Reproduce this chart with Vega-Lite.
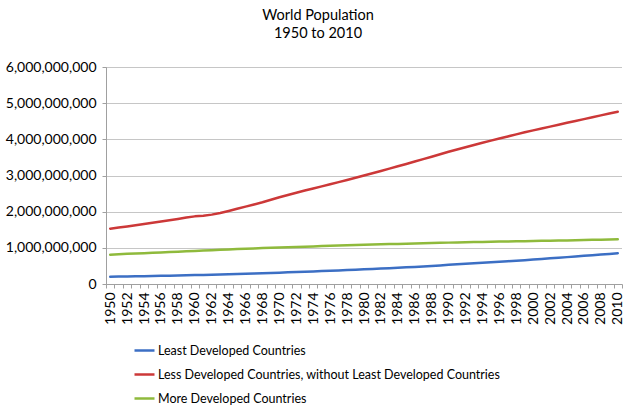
{
  "$schema": "https://vega.github.io/schema/vega-lite/v6.json",
  "width": 516,
  "height": 217,
  "autosize": {"type": "none"},
  "padding": {"left": 106, "top": 67, "right": 15, "bottom": 134},
  "background": "white",
  "title": {
    "text": ["World Population", "1950 to 2010"],
    "font": "Lato",
    "fontSize": 14.5,
    "fontWeight": "normal",
    "color": "#000000",
    "anchor": "middle",
    "dx": -46,
    "offset": 19,
    "lineHeight": 18
  },
  "config": {
    "view": {"stroke": null},
    "font": "Lato"
  },
  "datasets": {
    "population": [
      {"year": "1950", "series": "Least Developed Countries", "pop": 200000000},
      {"year": "1951", "series": "Least Developed Countries", "pop": 204000000},
      {"year": "1952", "series": "Least Developed Countries", "pop": 208000000},
      {"year": "1953", "series": "Least Developed Countries", "pop": 212000000},
      {"year": "1954", "series": "Least Developed Countries", "pop": 216000000},
      {"year": "1955", "series": "Least Developed Countries", "pop": 221000000},
      {"year": "1956", "series": "Least Developed Countries", "pop": 226000000},
      {"year": "1957", "series": "Least Developed Countries", "pop": 231000000},
      {"year": "1958", "series": "Least Developed Countries", "pop": 236000000},
      {"year": "1959", "series": "Least Developed Countries", "pop": 241000000},
      {"year": "1960", "series": "Least Developed Countries", "pop": 246000000},
      {"year": "1961", "series": "Least Developed Countries", "pop": 252000000},
      {"year": "1962", "series": "Least Developed Countries", "pop": 258000000},
      {"year": "1963", "series": "Least Developed Countries", "pop": 264000000},
      {"year": "1964", "series": "Least Developed Countries", "pop": 270000000},
      {"year": "1965", "series": "Least Developed Countries", "pop": 277000000},
      {"year": "1966", "series": "Least Developed Countries", "pop": 284000000},
      {"year": "1967", "series": "Least Developed Countries", "pop": 291000000},
      {"year": "1968", "series": "Least Developed Countries", "pop": 298000000},
      {"year": "1969", "series": "Least Developed Countries", "pop": 306000000},
      {"year": "1970", "series": "Least Developed Countries", "pop": 314000000},
      {"year": "1971", "series": "Least Developed Countries", "pop": 322000000},
      {"year": "1972", "series": "Least Developed Countries", "pop": 330000000},
      {"year": "1973", "series": "Least Developed Countries", "pop": 339000000},
      {"year": "1974", "series": "Least Developed Countries", "pop": 348000000},
      {"year": "1975", "series": "Least Developed Countries", "pop": 357000000},
      {"year": "1976", "series": "Least Developed Countries", "pop": 366000000},
      {"year": "1977", "series": "Least Developed Countries", "pop": 375000000},
      {"year": "1978", "series": "Least Developed Countries", "pop": 385000000},
      {"year": "1979", "series": "Least Developed Countries", "pop": 395000000},
      {"year": "1980", "series": "Least Developed Countries", "pop": 405000000},
      {"year": "1981", "series": "Least Developed Countries", "pop": 416000000},
      {"year": "1982", "series": "Least Developed Countries", "pop": 426000000},
      {"year": "1983", "series": "Least Developed Countries", "pop": 437000000},
      {"year": "1984", "series": "Least Developed Countries", "pop": 448000000},
      {"year": "1985", "series": "Least Developed Countries", "pop": 460000000},
      {"year": "1986", "series": "Least Developed Countries", "pop": 473000000},
      {"year": "1987", "series": "Least Developed Countries", "pop": 486000000},
      {"year": "1988", "series": "Least Developed Countries", "pop": 499000000},
      {"year": "1989", "series": "Least Developed Countries", "pop": 514000000},
      {"year": "1990", "series": "Least Developed Countries", "pop": 530000000},
      {"year": "1991", "series": "Least Developed Countries", "pop": 544000000},
      {"year": "1992", "series": "Least Developed Countries", "pop": 557000000},
      {"year": "1993", "series": "Least Developed Countries", "pop": 571000000},
      {"year": "1994", "series": "Least Developed Countries", "pop": 585000000},
      {"year": "1995", "series": "Least Developed Countries", "pop": 600000000},
      {"year": "1996", "series": "Least Developed Countries", "pop": 614000000},
      {"year": "1997", "series": "Least Developed Countries", "pop": 629000000},
      {"year": "1998", "series": "Least Developed Countries", "pop": 644000000},
      {"year": "1999", "series": "Least Developed Countries", "pop": 660000000},
      {"year": "2000", "series": "Least Developed Countries", "pop": 675000000},
      {"year": "2001", "series": "Least Developed Countries", "pop": 692000000},
      {"year": "2002", "series": "Least Developed Countries", "pop": 709000000},
      {"year": "2003", "series": "Least Developed Countries", "pop": 726000000},
      {"year": "2004", "series": "Least Developed Countries", "pop": 743000000},
      {"year": "2005", "series": "Least Developed Countries", "pop": 760000000},
      {"year": "2006", "series": "Least Developed Countries", "pop": 778000000},
      {"year": "2007", "series": "Least Developed Countries", "pop": 796000000},
      {"year": "2008", "series": "Least Developed Countries", "pop": 814000000},
      {"year": "2009", "series": "Least Developed Countries", "pop": 832000000},
      {"year": "2010", "series": "Least Developed Countries", "pop": 850000000},

      {"year": "1950", "series": "Less Developed Countries, without Least Developed Countries", "pop": 1530000000},
      {"year": "1951", "series": "Less Developed Countries, without Least Developed Countries", "pop": 1560000000},
      {"year": "1952", "series": "Less Developed Countries, without Least Developed Countries", "pop": 1592000000},
      {"year": "1953", "series": "Less Developed Countries, without Least Developed Countries", "pop": 1625000000},
      {"year": "1954", "series": "Less Developed Countries, without Least Developed Countries", "pop": 1658000000},
      {"year": "1955", "series": "Less Developed Countries, without Least Developed Countries", "pop": 1692000000},
      {"year": "1956", "series": "Less Developed Countries, without Least Developed Countries", "pop": 1727000000},
      {"year": "1957", "series": "Less Developed Countries, without Least Developed Countries", "pop": 1763000000},
      {"year": "1958", "series": "Less Developed Countries, without Least Developed Countries", "pop": 1800000000},
      {"year": "1959", "series": "Less Developed Countries, without Least Developed Countries", "pop": 1838000000},
      {"year": "1960", "series": "Less Developed Countries, without Least Developed Countries", "pop": 1870000000},
      {"year": "1961", "series": "Less Developed Countries, without Least Developed Countries", "pop": 1890000000},
      {"year": "1962", "series": "Less Developed Countries, without Least Developed Countries", "pop": 1918000000},
      {"year": "1963", "series": "Less Developed Countries, without Least Developed Countries", "pop": 1965000000},
      {"year": "1964", "series": "Less Developed Countries, without Least Developed Countries", "pop": 2020000000},
      {"year": "1965", "series": "Less Developed Countries, without Least Developed Countries", "pop": 2080000000},
      {"year": "1966", "series": "Less Developed Countries, without Least Developed Countries", "pop": 2140000000},
      {"year": "1967", "series": "Less Developed Countries, without Least Developed Countries", "pop": 2200000000},
      {"year": "1968", "series": "Less Developed Countries, without Least Developed Countries", "pop": 2260000000},
      {"year": "1969", "series": "Less Developed Countries, without Least Developed Countries", "pop": 2330000000},
      {"year": "1970", "series": "Less Developed Countries, without Least Developed Countries", "pop": 2400000000},
      {"year": "1971", "series": "Less Developed Countries, without Least Developed Countries", "pop": 2462000000},
      {"year": "1972", "series": "Less Developed Countries, without Least Developed Countries", "pop": 2524000000},
      {"year": "1973", "series": "Less Developed Countries, without Least Developed Countries", "pop": 2584000000},
      {"year": "1974", "series": "Less Developed Countries, without Least Developed Countries", "pop": 2642000000},
      {"year": "1975", "series": "Less Developed Countries, without Least Developed Countries", "pop": 2700000000},
      {"year": "1976", "series": "Less Developed Countries, without Least Developed Countries", "pop": 2758000000},
      {"year": "1977", "series": "Less Developed Countries, without Least Developed Countries", "pop": 2816000000},
      {"year": "1978", "series": "Less Developed Countries, without Least Developed Countries", "pop": 2874000000},
      {"year": "1979", "series": "Less Developed Countries, without Least Developed Countries", "pop": 2936000000},
      {"year": "1980", "series": "Less Developed Countries, without Least Developed Countries", "pop": 3000000000},
      {"year": "1981", "series": "Less Developed Countries, without Least Developed Countries", "pop": 3062000000},
      {"year": "1982", "series": "Less Developed Countries, without Least Developed Countries", "pop": 3126000000},
      {"year": "1983", "series": "Less Developed Countries, without Least Developed Countries", "pop": 3190000000},
      {"year": "1984", "series": "Less Developed Countries, without Least Developed Countries", "pop": 3255000000},
      {"year": "1985", "series": "Less Developed Countries, without Least Developed Countries", "pop": 3320000000},
      {"year": "1986", "series": "Less Developed Countries, without Least Developed Countries", "pop": 3386000000},
      {"year": "1987", "series": "Less Developed Countries, without Least Developed Countries", "pop": 3452000000},
      {"year": "1988", "series": "Less Developed Countries, without Least Developed Countries", "pop": 3518000000},
      {"year": "1989", "series": "Less Developed Countries, without Least Developed Countries", "pop": 3588000000},
      {"year": "1990", "series": "Less Developed Countries, without Least Developed Countries", "pop": 3655000000},
      {"year": "1991", "series": "Less Developed Countries, without Least Developed Countries", "pop": 3718000000},
      {"year": "1992", "series": "Less Developed Countries, without Least Developed Countries", "pop": 3780000000},
      {"year": "1993", "series": "Less Developed Countries, without Least Developed Countries", "pop": 3842000000},
      {"year": "1994", "series": "Less Developed Countries, without Least Developed Countries", "pop": 3904000000},
      {"year": "1995", "series": "Less Developed Countries, without Least Developed Countries", "pop": 3964000000},
      {"year": "1996", "series": "Less Developed Countries, without Least Developed Countries", "pop": 4022000000},
      {"year": "1997", "series": "Less Developed Countries, without Least Developed Countries", "pop": 4080000000},
      {"year": "1998", "series": "Less Developed Countries, without Least Developed Countries", "pop": 4138000000},
      {"year": "1999", "series": "Less Developed Countries, without Least Developed Countries", "pop": 4194000000},
      {"year": "2000", "series": "Less Developed Countries, without Least Developed Countries", "pop": 4248000000},
      {"year": "2001", "series": "Less Developed Countries, without Least Developed Countries", "pop": 4300000000},
      {"year": "2002", "series": "Less Developed Countries, without Least Developed Countries", "pop": 4352000000},
      {"year": "2003", "series": "Less Developed Countries, without Least Developed Countries", "pop": 4404000000},
      {"year": "2004", "series": "Less Developed Countries, without Least Developed Countries", "pop": 4456000000},
      {"year": "2005", "series": "Less Developed Countries, without Least Developed Countries", "pop": 4506000000},
      {"year": "2006", "series": "Less Developed Countries, without Least Developed Countries", "pop": 4558000000},
      {"year": "2007", "series": "Less Developed Countries, without Least Developed Countries", "pop": 4610000000},
      {"year": "2008", "series": "Less Developed Countries, without Least Developed Countries", "pop": 4662000000},
      {"year": "2009", "series": "Less Developed Countries, without Least Developed Countries", "pop": 4714000000},
      {"year": "2010", "series": "Less Developed Countries, without Least Developed Countries", "pop": 4765000000},

      {"year": "1950", "series": "More Developed Countries", "pop": 812000000},
      {"year": "1951", "series": "More Developed Countries", "pop": 822000000},
      {"year": "1952", "series": "More Developed Countries", "pop": 833000000},
      {"year": "1953", "series": "More Developed Countries", "pop": 843000000},
      {"year": "1954", "series": "More Developed Countries", "pop": 853000000},
      {"year": "1955", "series": "More Developed Countries", "pop": 863000000},
      {"year": "1956", "series": "More Developed Countries", "pop": 873000000},
      {"year": "1957", "series": "More Developed Countries", "pop": 884000000},
      {"year": "1958", "series": "More Developed Countries", "pop": 894000000},
      {"year": "1959", "series": "More Developed Countries", "pop": 905000000},
      {"year": "1960", "series": "More Developed Countries", "pop": 915000000},
      {"year": "1961", "series": "More Developed Countries", "pop": 926000000},
      {"year": "1962", "series": "More Developed Countries", "pop": 936000000},
      {"year": "1963", "series": "More Developed Countries", "pop": 946000000},
      {"year": "1964", "series": "More Developed Countries", "pop": 956000000},
      {"year": "1965", "series": "More Developed Countries", "pop": 966000000},
      {"year": "1966", "series": "More Developed Countries", "pop": 975000000},
      {"year": "1967", "series": "More Developed Countries", "pop": 984000000},
      {"year": "1968", "series": "More Developed Countries", "pop": 992000000},
      {"year": "1969", "series": "More Developed Countries", "pop": 1000000000},
      {"year": "1970", "series": "More Developed Countries", "pop": 1008000000},
      {"year": "1971", "series": "More Developed Countries", "pop": 1016000000},
      {"year": "1972", "series": "More Developed Countries", "pop": 1024000000},
      {"year": "1973", "series": "More Developed Countries", "pop": 1032000000},
      {"year": "1974", "series": "More Developed Countries", "pop": 1040000000},
      {"year": "1975", "series": "More Developed Countries", "pop": 1048000000},
      {"year": "1976", "series": "More Developed Countries", "pop": 1055000000},
      {"year": "1977", "series": "More Developed Countries", "pop": 1062000000},
      {"year": "1978", "series": "More Developed Countries", "pop": 1069000000},
      {"year": "1979", "series": "More Developed Countries", "pop": 1076000000},
      {"year": "1980", "series": "More Developed Countries", "pop": 1083000000},
      {"year": "1981", "series": "More Developed Countries", "pop": 1090000000},
      {"year": "1982", "series": "More Developed Countries", "pop": 1096000000},
      {"year": "1983", "series": "More Developed Countries", "pop": 1103000000},
      {"year": "1984", "series": "More Developed Countries", "pop": 1109000000},
      {"year": "1985", "series": "More Developed Countries", "pop": 1115000000},
      {"year": "1986", "series": "More Developed Countries", "pop": 1121000000},
      {"year": "1987", "series": "More Developed Countries", "pop": 1127000000},
      {"year": "1988", "series": "More Developed Countries", "pop": 1133000000},
      {"year": "1989", "series": "More Developed Countries", "pop": 1139000000},
      {"year": "1990", "series": "More Developed Countries", "pop": 1144000000},
      {"year": "1991", "series": "More Developed Countries", "pop": 1149000000},
      {"year": "1992", "series": "More Developed Countries", "pop": 1154000000},
      {"year": "1993", "series": "More Developed Countries", "pop": 1159000000},
      {"year": "1994", "series": "More Developed Countries", "pop": 1164000000},
      {"year": "1995", "series": "More Developed Countries", "pop": 1169000000},
      {"year": "1996", "series": "More Developed Countries", "pop": 1173000000},
      {"year": "1997", "series": "More Developed Countries", "pop": 1177000000},
      {"year": "1998", "series": "More Developed Countries", "pop": 1181000000},
      {"year": "1999", "series": "More Developed Countries", "pop": 1185000000},
      {"year": "2000", "series": "More Developed Countries", "pop": 1189000000},
      {"year": "2001", "series": "More Developed Countries", "pop": 1193000000},
      {"year": "2002", "series": "More Developed Countries", "pop": 1197000000},
      {"year": "2003", "series": "More Developed Countries", "pop": 1202000000},
      {"year": "2004", "series": "More Developed Countries", "pop": 1206000000},
      {"year": "2005", "series": "More Developed Countries", "pop": 1211000000},
      {"year": "2006", "series": "More Developed Countries", "pop": 1216000000},
      {"year": "2007", "series": "More Developed Countries", "pop": 1221000000},
      {"year": "2008", "series": "More Developed Countries", "pop": 1226000000},
      {"year": "2009", "series": "More Developed Countries", "pop": 1231000000},
      {"year": "2010", "series": "More Developed Countries", "pop": 1236000000}
    ]
  },
  "data": {"name": "population"},
  "mark": {"type": "line", "strokeWidth": 2.5, "strokeCap": "round", "strokeJoin": "round"},
  "encoding": {
    "x": {
      "field": "year",
      "type": "ordinal",
      "scale": {"paddingInner": 0, "paddingOuter": 0},
      "axis": {
        "title": null,
        "labelAngle": -90,
        "labelAlign": "right",
        "labelBaseline": "middle",
        "labelFont": "Lato",
        "labelFontSize": 14,
        "labelColor": "#000000",
        "labelPadding": 4,
        "labelExpr": "toNumber(datum.value) % 2 == 0 ? datum.value : ''",
        "tickBand": "extent",
        "tickSize": 4,
        "tickColor": "#a0a0a0",
        "domainColor": "#a0a0a0",
        "grid": false
      }
    },
    "y": {
      "field": "pop",
      "type": "quantitative",
      "scale": {"domain": [0, 6000000000], "nice": false},
      "axis": {
        "title": null,
        "values": [0, 1000000000, 2000000000, 3000000000, 4000000000, 5000000000, 6000000000],
        "format": ",d",
        "labelFont": "Lato",
        "labelFontSize": 14,
        "labelColor": "#000000",
        "labelPadding": 6,
        "tickSize": 4,
        "tickColor": "#a0a0a0",
        "domainColor": "#a0a0a0",
        "grid": true,
        "gridColor": "#8c8c8c",
        "gridDash": [1, 1],
        "gridWidth": 1
      }
    },
    "color": {
      "field": "series",
      "type": "nominal",
      "scale": {
        "domain": ["Least Developed Countries", "Less Developed Countries, without Least Developed Countries", "More Developed Countries"],
        "range": ["#3c6fc4", "#cc3838", "#8fba3c"]
      },
      "legend": {
        "title": null,
        "orient": "none",
        "legendX": 27,
        "legendY": 272,
        "symbolType": "stroke",
        "symbolSize": 400,
        "symbolStrokeWidth": 2.5,
        "labelFont": "Lato",
        "labelFontSize": 12.5,
        "labelColor": "#000000",
        "rowPadding": 6,
        "labelOffset": 2,
        "labelLimit": 500
      }
    }
  }
}
